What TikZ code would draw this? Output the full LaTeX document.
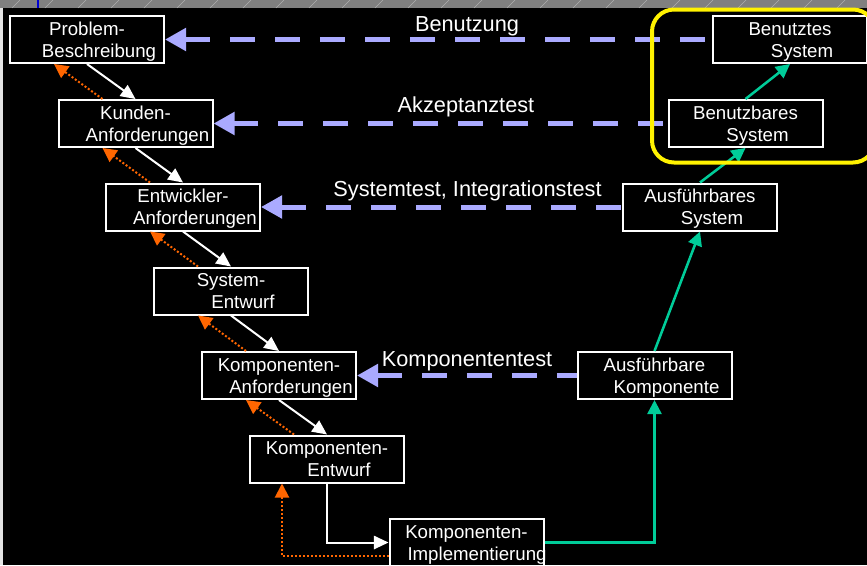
\documentclass[tikz,border=0pt]{standalone}
\usepackage{fontspec}
\setmainfont{Liberation Sans}
\usetikzlibrary{arrows.meta}
\usetikzlibrary{calc}
\definecolor{testblue}{RGB}{170,170,255}
\definecolor{backorange}{RGB}{255,102,0}
\definecolor{upgreen}{RGB}{0,204,153}
\definecolor{framegrey}{RGB}{128,128,128}
\definecolor{hatchgrey}{RGB}{175,175,175}
\definecolor{markblue}{RGB}{0,0,210}
\tikzset{
  stage/.style={draw=white, line width=1.5pt, fill=black, text=white, minimum width=115.5pt, minimum height=35.25pt, inner sep=0pt, text height=30.25pt, text depth=4pt, align=center, font=\fontsize{14}{16.5}\selectfont},
  testlabel/.style={anchor=base, text=white, inner sep=0pt, font=\fontsize{16.3}{19}\selectfont},
  testarrow/.style={testblue, line width=3.75pt, dash pattern=on 18.75pt off 15pt, {Triangle[length=15.75pt,width=16.5pt]}-},
  downarrow/.style={white, line width=1.5pt, -{Triangle[length=11pt,width=10pt]}},
  backarrow/.style={backorange, line width=1.5pt, dash pattern=on 1.5pt off 1.5pt, -{Triangle[length=10.5pt,width=10.5pt]}},
  uparrow/.style={upgreen, line width=1.9pt, -{Triangle[length=10.5pt,width=10.5pt]}},
}
\newcommand{\nextline}{\\\hspace*{18pt}}

\begin{document}
\begin{tikzpicture}[x=0.75pt,y=0.75pt,yscale=-1,xscale=1]
\useasboundingbox (0,0) rectangle (867,565);

%Shape: background
\fill [black] (0,0) rectangle (867,565);
\fill [framegrey] (0,0) rectangle (867,8);
\foreach \x in {20,53,...,900}
  \draw [hatchgrey, line width=0.4pt] (\x-8,8) -- (\x,0);
\fill [gray!20] (0,8) rectangle (3,565);
\draw [markblue, line width=1.5pt] (37.5,0) -- (37.5,8);

% Left branch
\draw (87,39.5) node [stage] (problem) {Problem-\nextline Beschreibung};
\draw (135.5,123.5) node [stage] (kunden) {Kunden-\nextline Anforderungen};
\draw (183,207) node [stage] (entwickler) {Entwickler-\nextline Anforderungen};
\draw (231,291) node [stage] (sysentwurf) {System-\nextline Entwurf};
\draw (279,375.5) node [stage] (kanford) {Komponenten-\nextline Anforderungen};
\draw (327,459) node [stage] (kentwurf) {Komponenten-\nextline Entwurf};
\draw (466.5,542.5) node [stage] (kimpl) {Komponenten-\\\hspace*{13.5pt}\makebox[102pt][l]{Implementierung}};

% Right branch
\draw (654.5,375.5) node [stage] (akomp) {Ausführbare\nextline Komponente};
\draw (700,207) node [stage] (asys) {Ausführbares\nextline System};
\draw (745.5,123.5) node [stage] (bbar) {Benutzbares\nextline System};
\draw (790,39.5) node [stage] (btes) {Benutztes\nextline System};

%Straight Lines: downwards
\draw [downarrow] (problem.south) -- (kunden.north);
\draw [downarrow] (kunden.south) -- (entwickler.north);
\draw [downarrow] (entwickler.south) -- (sysentwurf.north);
\draw [downarrow] (sysentwurf.south) -- (kanford.north);
\draw [downarrow] (kanford.south) -- (kentwurf.north);
\draw [downarrow] (kentwurf.south) |- (kimpl.west);

%Straight Lines: back steps
\draw [backarrow] ($(kunden.north)+(-33,0)$) -- ($(problem.south)+(-33,0)$);
\draw [backarrow] ($(entwickler.north)+(-33,0)$) -- ($(kunden.south)+(-33,0)$);
\draw [backarrow] ($(sysentwurf.north)+(-33,0)$) -- ($(entwickler.south)+(-33,0)$);
\draw [backarrow] ($(kanford.north)+(-33,0)$) -- ($(sysentwurf.south)+(-33,0)$);
\draw [backarrow] ($(kentwurf.north)+(-33,0)$) -- ($(kanford.south)+(-33,0)$);
\draw [backarrow] ($(kimpl.west)+(0,13.5)$) -| ($(kentwurf.south)+(-45,0)$);

%Straight Lines: upwards
\draw [uparrow] (kimpl.east) -| (akomp.south);
\draw [uparrow] (akomp.north) -- (asys.south);
\draw [uparrow] (asys.north) -- (bbar.south);
\draw [uparrow] (bbar.north) -- (btes.south);

%Straight Lines: tests
\draw [testarrow] (problem.east) -- (btes.west);
\draw [testarrow] (kunden.east) -- (bbar.west);
\draw [testarrow] (entwickler.east) -- (asys.west);
\draw [testarrow] (kanford.east) -- (akomp.west);

%Shape: Rectangle
\draw [yellow, line width=3pt, rounded corners=16.5pt] (652,9.5) rectangle (875,162.5);

% Text Node
\draw (467,31.5) node [testlabel] (lbenutzung) {Benutzung};
% Text Node
\draw (466,112) node [testlabel] (lakzeptanz) {Akzeptanztest};
% Text Node
\draw (467.5,196.7) node [testlabel] (lsystemtest) {Systemtest, Integrationstest};
% Text Node
\draw (467,366.7) node [testlabel] (lkomptest) {Komponententest};

\end{tikzpicture}
\end{document}
